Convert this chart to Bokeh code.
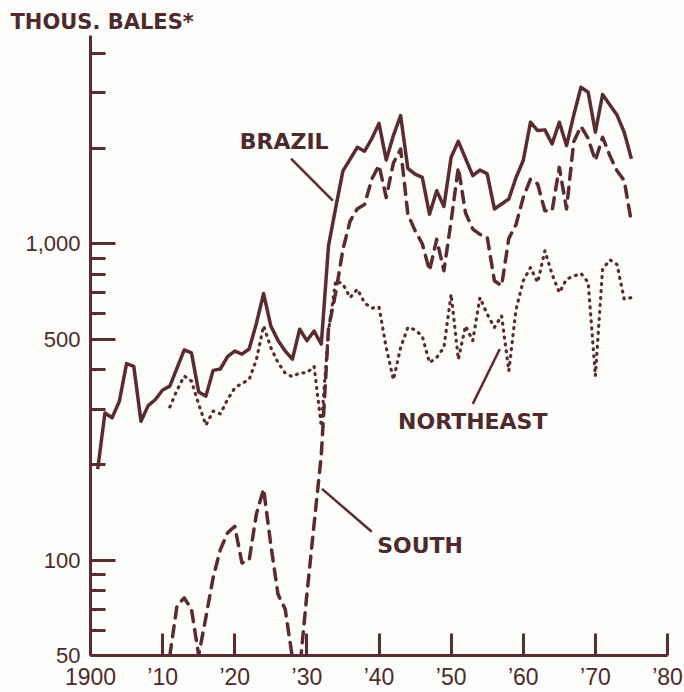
from bokeh.plotting import figure
from bokeh.models import FixedTicker, NumeralTickFormatter, Label, Range1d
from bokeh.embed import file_html
from bokeh.resources import INLINE

# ---- data (thousand bales) ----
brazil_years = list(range(1901, 1976))
brazil = [194, 292, 282, 318, 418, 410, 275, 308, 322, 345,
          355, 405, 462, 452, 340, 330, 398, 402, 440, 458,
          448, 465, 560, 696, 550, 495, 458, 432, 537, 494,
          530, 482, 985, 1300, 1700, 1850, 2018, 1960, 2150, 2400,
          1840, 2200, 2540, 1730, 1660, 1620, 1240, 1470, 1312, 1876,
          2107, 1860, 1641, 1710, 1663, 1288, 1335, 1385, 1620, 1832,
          2421, 2278, 2290, 2068, 2421, 2043, 2550, 3123, 3011, 2250,
          2962, 2750, 2550, 2250, 1854]

northeast_years = list(range(1911, 1976))
northeast = [305, 345, 382, 368, 311, 267, 296, 290, 322, 350,
             362, 372, 430, 550, 470, 421, 390, 380, 391, 391,
             410, 265, 530, 764, 746, 676, 719, 650, 626, 631,
             470, 372, 470, 544, 535, 510, 421, 437, 470, 693,
             431, 550, 494, 676, 599, 544, 592, 396, 620, 764,
             841, 755, 950, 801, 701, 773, 790, 806, 755, 382,
             830, 890, 860, 668, 676]

south_years = list(range(1911, 1976))
south = [50, 72, 76, 70, 50, 66, 88, 108, 122, 128,
         98, 100, 140, 168, 112, 78, 70, 49, 45, 78,
         130, 215, 540, 700, 960, 1180, 1290, 1330, 1600, 1770,
         1400, 1800, 1990, 1240, 1100, 1000, 822, 1033, 822, 1180,
         1743, 1250, 1113, 1070, 1050, 764, 737, 1040, 1150, 1400,
         1600, 1545, 1271, 1271, 1743, 1288, 2100, 2350, 2150, 1832,
         2170, 1900, 1700, 1583, 1168]

x_ticks = [1900, 1910, 1920, 1930, 1940, 1950, 1960, 1970, 1980]
x_tick_labels = ["1900", "\u201910", "\u201920", "\u201930", "\u201940",
                 "\u201950", "\u201960", "\u201970", "\u201980"]
y_major = [50, 100, 500, 1000]
y_minor = [60, 70, 80, 90, 200, 300, 400, 600, 700, 800, 900, 2000, 3000, 4000]

# series labels and their leader lines (annotation anchors in data units)
label_text = ["BRAZIL", "NORTHEAST", "SOUTH"]
label_x = [1926.85, 1953.0, 1945.7]
label_y = [2103, 274, 111]
leader_x0 = [1927.8, 1953.0, 1932.1]
leader_y0 = [1858, 312, 168]
leader_x1 = [1933.6, 1956.75, 1939.0]
leader_y1 = [1368, 465, 123]

INK = "#5a2c2f"
TEXT = "#4e2a2c"
BG = "#fcfcfa"

W, H = 684, 692
p = figure(width=W, height=H, output_backend="svg", toolbar_location=None,
           y_axis_type="log", x_range=Range1d(1900, 1980), y_range=Range1d(50, 4550),
           min_border_left=90, min_border_right=17, min_border_top=35, min_border_bottom=35,
           background_fill_color=BG, border_fill_color=BG,
           title="THOUS. BALES*")
p.outline_line_color = None
p.grid.visible = False

p.title.align = "left"
p.title.offset = -80
p.title.standoff = 4
p.title.text_font = "DejaVu Sans"
p.title.text_font_style = "bold"
p.title.text_font_size = "21px"
p.title.text_color = TEXT

# axes
for ax in (p.xaxis, p.yaxis):
    ax.axis_line_color = INK
    ax.axis_line_width = 3
    ax.major_tick_line_color = INK
    ax.major_tick_line_width = 3
    ax.minor_tick_line_color = INK
    ax.minor_tick_line_width = 3
    ax.major_tick_out = 0
    ax.minor_tick_out = 0
    ax.major_label_text_color = TEXT
    ax.major_label_text_font = "Liberation Sans"
    ax.major_label_text_font_size = "22px"

p.xaxis.ticker = FixedTicker(ticks=x_ticks)
p.xaxis.major_label_overrides = dict(zip(x_ticks, x_tick_labels))
p.xaxis.major_tick_in = 22
p.xaxis.minor_tick_in = 0
p.xaxis.major_label_standoff = 8
p.xaxis.major_label_text_font_size = "23px"

p.yaxis.ticker = FixedTicker(ticks=y_major, minor_ticks=y_minor)
p.yaxis.formatter = NumeralTickFormatter(format="0,0")
p.yaxis.major_tick_in = 25
p.yaxis.minor_tick_in = 15
p.yaxis.major_label_standoff = 10

# series
p.line(brazil_years, brazil, line_color=INK, line_width=3.5, line_join="round")
p.line(south_years, south, line_color=INK, line_width=3.5, line_dash="11 8",
       line_cap="round", line_join="round")
p.line(northeast_years, northeast, line_color=INK, line_width=3.2, line_dash="1 6",
       line_cap="round", line_join="round")

# leader lines
p.segment(leader_x0, leader_y0, leader_x1, leader_y1, line_color=INK, line_width=2.5)

for t, lx, ly in zip(label_text, label_x, label_y):
    p.add_layout(Label(x=lx, y=ly, text=t, text_align="center", text_baseline="middle",
                       text_font="DejaVu Sans", text_font_style="bold",
                       text_font_size="22px", text_color=TEXT))

open("out.html", "w").write(file_html(p, INLINE))
